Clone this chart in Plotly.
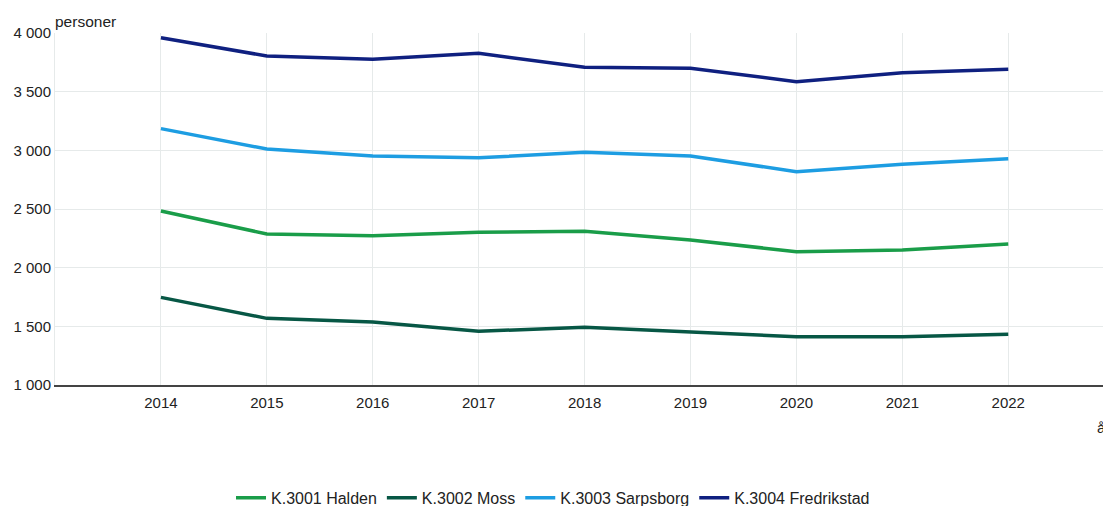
import plotly.graph_objects as go

years = [2014, 2015, 2016, 2017, 2018, 2019, 2020, 2021, 2022]
halden = [2483, 2287, 2273, 2301, 2310, 2236, 2136, 2151, 2202]
moss = [1747, 1568, 1537, 1458, 1492, 1454, 1412, 1412, 1432]
sarpsborg = [3185, 3011, 2952, 2937, 2983, 2952, 2818, 2881, 2929]
fredrikstad = [3960, 3804, 3776, 3827, 3708, 3699, 3585, 3662, 3690]

names = ["K.3001 Halden", "K.3002 Moss", "K.3003 Sarpsborg", "K.3004 Fredrikstad"]
colors = ["#1a9d49", "#075745", "#1d9de2", "#0f2080"]
series = [halden, moss, sarpsborg, fredrikstad]

font = "Liberation Sans, Arial, sans-serif"

fig = go.Figure()
for n, c, s in zip(names, colors, series):
    fig.add_trace(go.Scatter(x=years, y=s, name=n, mode="lines",
                             line=dict(color=c, width=3.5)))

fig.update_layout(
    width=1103, height=498,
    margin=dict(l=47, r=0, t=25, b=121, autoexpand=False),
    paper_bgcolor="white", plot_bgcolor="white",
    separators=", ",
    font=dict(family=font, size=15, color="#222222"),
    showlegend=True,
    legend=dict(orientation="h", x=0.4716, xanchor="center", y=-0.272, yanchor="top",
                font=dict(size=16, color="#222222"), itemwidth=30,
                traceorder="normal"),
    xaxis=dict(range=[2013, 2022.97], tickvals=years, ticktext=[str(y) for y in years],
               showgrid=True, gridcolor="#e6eaea", gridwidth=1,
               showline=True, linecolor="#444444", linewidth=1.5,
               ticks="outside", ticklen=3, tickcolor="rgba(0,0,0,0)",
               zeroline=False, tickfont=dict(size=15)),
    yaxis=dict(range=[1000, 4000], dtick=500, tickformat=",d",
               showgrid=True, gridcolor="#e6eaea", gridwidth=1,
               showline=True, linecolor="#e6eaea", linewidth=1,
               zeroline=False, tickfont=dict(size=15)),
    annotations=[
        dict(text="personer", x=0, y=1, xref="paper", yref="paper",
             xanchor="left", yanchor="bottom", showarrow=False, yshift=1,
             xshift=-2, font=dict(size=15.5)),
        dict(text="år", x=0.985, y=-0.122, xref="paper", yref="paper",
             xanchor="left", yanchor="middle", showarrow=False,
             font=dict(size=15)),
    ],
)

fig.write_html("out.html")
